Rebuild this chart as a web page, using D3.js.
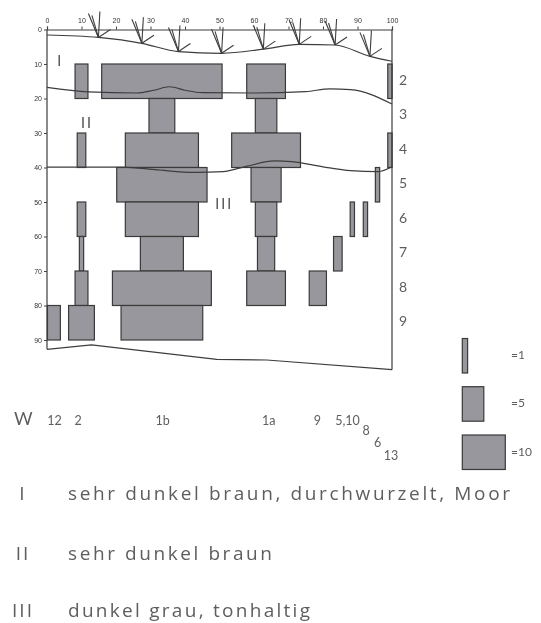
<!DOCTYPE html>
<html>
<head>
<meta charset="utf-8">
<script src="https://cdn.jsdelivr.net/npm/d3@7"></script>
<style>
  html, body { margin: 0; padding: 0; background: #fff; }
  svg { display: block; will-change: transform; }
  text { font-variant-ligatures: none; }
  .tick text { font-family: "Liberation Sans", Arial, sans-serif; font-size: 7px; fill: #333; }
  .tick line { stroke: #444; }
</style>
</head>
<body>
<script>
// Transect axis (0–100) and depth axis (cm)
const transectTicks = [0, 10, 20, 30, 40, 50, 60, 70, 80, 90, 100];
const depthTicks = [0, 10, 20, 30, 40, 50, 60, 70, 80, 90];

// Sampling columns along the transect and 10 cm layers (top depth of each layer)
const columnPos = [2.0, 10.0, 33.3, 63.5, 78.5, 84.3, 88.5, 92.3, 95.8, 99.4];
const layerTop = [10, 20, 30, 40, 50, 60, 70, 80];
// counts per column (rows) and layer (columns)
const counts = [
  [0, 0, 0, 0, 0, 0, 0, 3],
  [3, 0, 2, 0, 2, 1, 3, 6],
  [28, 6, 17, 21, 17, 10, 23, 19],
  [9, 5, 16, 7, 5, 4, 9, 0],
  [0, 0, 0, 0, 0, 0, 4, 0],
  [0, 0, 0, 0, 0, 2, 0, 0],
  [0, 0, 0, 0, 1, 0, 0, 0],
  [0, 0, 0, 0, 1, 0, 0, 0],
  [0, 0, 0, 1, 0, 0, 0, 0],
  [1, 0, 1, 0, 0, 0, 0, 0]
];

// Layer numbers on the right side
const layerNames = ["2", "3", "4", "5", "6", "7", "8", "9"];

// Ground surface, horizon boundaries and base (transect position, depth)
const surface = [[0, 1.6], [14.9, 2.3], [27.5, 4.0], [38.1, 6.4], [50.6, 6.9], [62.7, 5.7], [73.1, 4.3], [83.5, 4.5], [93.6, 7.8], [100, 9.2]];
const plantPos = [14.9, 27.5, 38.1, 50.6, 62.7, 73.1, 83.5, 93.6];
const boundaryI = [[0, 16.8], [12, 18.1], [26, 18.4], [31, 17.6], [35.5, 16.6], [40, 17.6], [45, 18.3], [60, 18.4], [75, 18.0], [82, 17.2], [88, 17.4], [100, 21.6]];
const boundaryII = [[0, 39.9], [22, 39.9], [32, 40.7], [43, 41.4], [51, 41.2], [58, 39.6], [66, 38.1], [71, 38.3], [80, 39.8], [88, 40.9], [96, 41.2], [100, 39.8]];
const baseLine = [[0, 92.7], [12.9, 91.4], [49.2, 95.6], [63.7, 95.8], [100, 98.6]];

// Horizon labels inside the profile
const horizonNames = ["I", "II", "III"];
const horizonLabelPos = [[3.8, 9.3], [11.5, 27.5], [51.3, 51]];

// Sample labels under the profile
const sampleNames = ["12", "2", "1b", "1a", "9", "5,10", "8", "6", "13"];
const samplePos = [2.2, 9.0, 33.5, 64.3, 78.4, 87.1, 92.5, 95.8, 99.7];
const sampleDrop = [0, 0, 0, 0, 0, 0, 10, 22, 35];

// Width key
const keyValues = [1, 5, 10];

// Horizon descriptions
const horizonText = ["sehr dunkel braun, durchwurzelt, Moor", "sehr dunkel braun", "dunkel grau, tonhaltig"];

const W = 541, H = 623;
const svg = d3.select("body").append("svg").attr("width", W).attr("height", H);

const x = d3.scaleLinear().domain([0, 100]).range([47, 392]);
const y = d3.scaleLinear().domain([0, 100]).range([29.5, 374.5]);
const w = d3.scaleLinear().domain([0, 10]).range([0, 43]);

const barFill = "#98979d", barStroke = "#3a3a3a", lineCol = "#3d3d3d", textCol = "#5e5e5e";

// Bars
const cells = [];
counts.forEach((row, ci) => row.forEach((v, li) => {
  if (v > 0) cells.push({ pos: columnPos[ci], top: layerTop[li], v });
}));
svg.append("g").selectAll("rect").data(cells).join("rect")
  .attr("x", d => x(d.pos) - w(d.v) / 2)
  .attr("y", d => y(d.top))
  .attr("width", d => w(d.v))
  .attr("height", d => y(d.top + 10) - y(d.top))
  .attr("fill", barFill)
  .attr("stroke", barStroke)
  .attr("stroke-width", 1.2);

// Profile lines
const line = d3.line().x(d => x(d[0])).y(d => y(d[1]));
const smooth = d3.line().x(d => x(d[0])).y(d => y(d[1])).curve(d3.curveMonotoneX);
svg.append("path").attr("d", smooth(surface)).attr("fill", "none").attr("stroke", lineCol).attr("stroke-width", 1.2);
svg.append("path").attr("d", smooth(boundaryI)).attr("fill", "none").attr("stroke", lineCol).attr("stroke-width", 1.2);
svg.append("path").attr("d", smooth(boundaryII)).attr("fill", "none").attr("stroke", lineCol).attr("stroke-width", 1.2);
svg.append("path").attr("d", line(baseLine)).attr("fill", "none").attr("stroke", lineCol).attr("stroke-width", 1.2);

// Frame: left depth axis down to the base, right edge down to the base
svg.append("line").attr("x1", x(0)).attr("x2", x(0)).attr("y1", y(0)).attr("y2", y(baseLine[0][1]))
  .attr("stroke", lineCol).attr("stroke-width", 1.2);
svg.append("line").attr("x1", x(100)).attr("x2", x(100)).attr("y1", y(0)).attr("y2", y(baseLine[baseLine.length - 1][1]))
  .attr("stroke", lineCol).attr("stroke-width", 1.2);

// Axes
const topAxis = d3.axisTop(x).tickValues(transectTicks).tickSize(3).tickPadding(4);
const gt = svg.append("g").attr("transform", `translate(0,${y(0)})`).call(topAxis);
gt.select(".domain").attr("stroke", lineCol).attr("stroke-width", 1.2);
const leftAxis = d3.axisLeft(y).tickValues(depthTicks).tickSize(3).tickPadding(2);
const gl = svg.append("g").attr("transform", `translate(${x(0)},0)`).call(leftAxis);
gl.select(".domain").remove();

// Vegetation symbols on the surface
const surfaceAt = p => {
  for (let i = 1; i < surface.length; i++) {
    if (p <= surface[i][0]) {
      const a = surface[i - 1], b = surface[i];
      return a[1] + (b[1] - a[1]) * (p - a[0]) / (b[0] - a[0]);
    }
  }
  return surface[surface.length - 1][1];
};
const plants = svg.append("g").attr("stroke", lineCol).attr("stroke-width", 1.1).attr("fill", "none");
plantPos.forEach(p => {
  const bx = x(p), by = y(surfaceAt(p));
  const g = plants.append("g");
  g.append("line").attr("x1", bx + 1.5).attr("y1", by - 26).attr("x2", bx).attr("y2", by);
  g.append("line").attr("x1", bx - 10).attr("y1", by - 24).attr("x2", bx).attr("y2", by);
  g.append("line").attr("x1", bx - 6.5).attr("y1", by - 22).attr("x2", bx).attr("y2", by);
  g.append("line").attr("x1", bx).attr("y1", by).attr("x2", bx + 12).attr("y2", by - 8);
});

// Horizon numerals in the profile
svg.append("g").selectAll("text").data(horizonNames).join("text")
  .attr("x", (d, i) => x(horizonLabelPos[i][0]))
  .attr("y", (d, i) => y(horizonLabelPos[i][1]))
  .attr("text-anchor", "middle")
  .attr("dominant-baseline", "middle")
  .attr("font-family", "Lato, sans-serif")
  .attr("font-size", 16)
  .attr("letter-spacing", 1.5)
  .attr("fill", textCol)
  .text(d => d);

// Layer numbers on the right
svg.append("g").selectAll("text").data(layerNames).join("text")
  .attr("x", x(100) + 7)
  .attr("y", (d, i) => y(layerTop[i] + 5))
  .attr("dominant-baseline", "middle")
  .attr("font-family", "Lato, sans-serif")
  .attr("font-size", 14)
  .attr("fill", textCol)
  .text(d => d);

// Sample labels
svg.append("text").attr("x", 14).attr("y", 425)
  .attr("font-family", "Lato, sans-serif").attr("font-size", 18).attr("fill", textCol).text("W");
svg.append("g").selectAll("text").data(sampleNames).join("text")
  .attr("x", (d, i) => x(samplePos[i]))
  .attr("y", (d, i) => 425 + sampleDrop[i])
  .attr("text-anchor", "middle")
  .attr("font-family", "Lato, sans-serif")
  .attr("font-size", 12.5)
  .attr("fill", textCol)
  .text(d => d);

// Width key
const keyTop = [338.5, 386.7, 435];
const key = svg.append("g");
keyValues.forEach((v, i) => {
  key.append("rect")
    .attr("x", 462.3).attr("y", keyTop[i])
    .attr("width", Math.max(w(v), 5.3)).attr("height", y(10) - y(0))
    .attr("fill", barFill).attr("stroke", barStroke).attr("stroke-width", 1.2);
  key.append("text")
    .attr("x", 511).attr("y", keyTop[i] + 17.5)
    .attr("dominant-baseline", "middle")
    .attr("font-family", "Lato, sans-serif").attr("font-size", 12).attr("fill", textCol)
    .text("=" + v);
});

// Horizon descriptions
const descY = [500, 560, 617];
const descLen = [442, 204, 242];
const desc = svg.append("g").attr("fill", textCol).attr("font-family", "'Open Sans', sans-serif");
horizonText.forEach((t, i) => {
  desc.append("text").attr("x", 23).attr("y", descY[i]).attr("text-anchor", "middle")
    .attr("font-size", 19).attr("letter-spacing", 2).text(horizonNames[i]);
  desc.append("text").attr("x", 68).attr("y", descY[i])
    .attr("font-size", 19).attr("textLength", descLen[i]).attr("lengthAdjust", "spacing").text(t);
});
</script>
</body>
</html>
